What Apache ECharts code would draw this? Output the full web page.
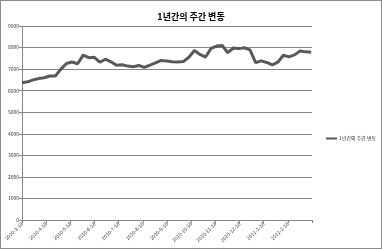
<!DOCTYPE html>
<html><head><meta charset="utf-8">
<script src="https://cdn.jsdelivr.net/npm/echarts@6/dist/echarts.min.js"></script>
<style>
html,body{margin:0;padding:0;background:#fff;}
#c{width:380px;height:247px;border:1px solid #8c8c8c;}
</style></head>
<body><div id="c"></div>
<script>
const titleText = '1년간의 주간 변동';
const seriesName = '1년간의 주간 변동';
const monthLabels = ['2010-3-18','2010-4-18','2010-5-18','2010-6-18','2010-7-18','2010-8-18','2010-9-18','2010-10-18','2010-11-18','2010-12-18','2011-1-18','2011-2-18','2011-3-18'];
const startDate = '2010-03-18';
const endDate = '2011-03-18';
const weeklyValues = [6370,6410,6500,6560,6600,6680,6680,7000,7260,7330,7250,7650,7530,7550,7320,7460,7340,7180,7200,7140,7110,7170,7080,7180,7290,7400,7380,7340,7330,7350,7550,7860,7680,7560,7960,8070,8100,7760,7980,7950,7990,7890,7300,7380,7310,7200,7320,7640,7570,7660,7840,7800,7780];

// weekly dates (categories of the series)
const weekDates = [];
{
  const d0 = new Date(startDate + 'T00:00:00Z');
  for (let i = 0; i < weeklyValues.length; i++) {
    const d = new Date(d0.getTime() + i * 7 * 86400000);
    weekDates.push(d.toISOString().slice(0, 10));
  }
}
const seriesData = weekDates.map((d, i) => [d, weeklyValues[i]]);

const chart = echarts.init(document.getElementById('c'), null, {renderer: 'canvas'});
const FONT = '"Noto Sans CJK KR", "Noto Sans", sans-serif';
chart.setOption({
  animation: false,
  backgroundColor: '#fff',
  title: {
    text: titleText, left: 'center', top: 6,
    textStyle: {fontFamily: FONT, fontSize: 9, fontWeight: 'bold', color: '#000'}
  },
  legend: {
    data: [seriesName], left: 320, top: 130, orient: 'vertical',
    icon: 'rect', itemWidth: 11, itemHeight: 2, itemGap: 2,
    textStyle: {fontFamily: FONT, fontSize: 5, color: '#333', padding: [0,0,0,-3]}
  },
  grid: {left: 21, right: 69, top: 25, bottom: 28, containLabel: false},
  xAxis: [
    {type: 'time', min: startDate, max: endDate, show: false},
    {type: 'category', data: monthLabels, boundaryGap: false, position: 'bottom',
     axisLine: {lineStyle: {color: '#868686', width: 1}},
     axisTick: {show: true, length: 3, interval: 0, lineStyle: {color: '#868686'}},
     axisLabel: {interval: 0, rotate: 45, fontSize: 5, fontFamily: FONT, color: '#333', margin: 3,
       formatter: (v, i) => i === monthLabels.length - 1 ? '' : v},
     splitLine: {show: false}}
  ],
  yAxis: {
    type: 'value', min: 0, max: 9000, interval: 1000,
    axisLine: {show: true, lineStyle: {color: '#868686'}},
    axisTick: {show: true, length: 3, lineStyle: {color: '#868686'}},
    axisLabel: {fontSize: 5, fontFamily: FONT, color: '#333', margin: 3, formatter: v => String(v)},
    splitLine: {show: true, lineStyle: {color: '#868686', width: 1}}
  },
  series: [{
    name: seriesName, type: 'line', xAxisIndex: 0, data: seriesData,
    symbol: 'none', lineStyle: {color: '#595959', width: 3}, itemStyle: {color: '#595959'}
  }]
});
</script>
</body></html>
